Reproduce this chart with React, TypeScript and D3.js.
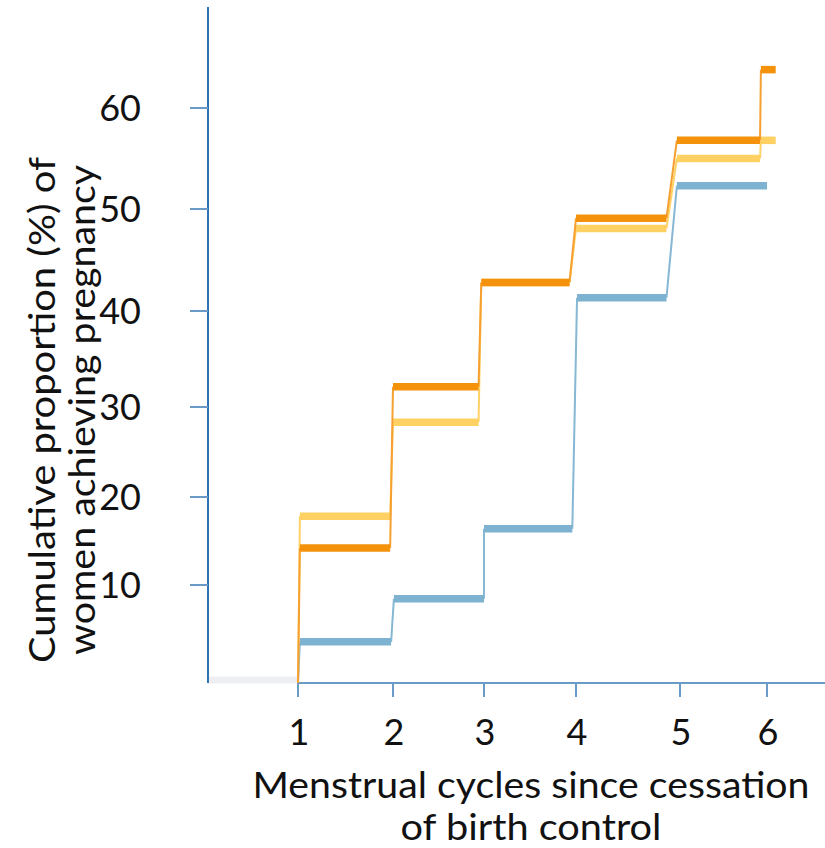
import React, { useEffect } from "react";
import * as d3 from "d3";

// ---- Data ----
const cycleTicks = [1, 2, 3, 4, 5, 6];
const pctTicks = [10, 20, 30, 40, 50, 60];

// step intervals (in cycle units) for the orange & yellow series
const stepStart = [1.02, 2.0, 2.97, 4.0, 4.97, 5.93];
const stepEnd = [1.97, 2.94, 3.93, 4.87, 5.92, 6.1];
// step intervals for the blue series
const blueStart = [1.02, 2.01, 3.0, 4.01, 4.97];
const blueEnd = [1.98, 3.0, 3.96, 4.87, 6.0];

const blueValues = [4.2, 8.6, 16.4, 41.3, 52.3];
const yellowValues = [17.8, 28.3, 42.8, 48.1, 55.0, 56.8];
const orangeValues = [14.2, 32.1, 42.8, 49.1, 56.8, 63.8];

const xTitle = ["Menstrual cycles since cessation", "of birth control"];
const yTitle = ["Cumulative proportion (%) of", "women achieving pregnancy"];

const W = 825;
const H = 848;

// non-uniform axes, as drawn in the reference
const x = d3
  .scaleLinear()
  .domain([0, 1, 2, 3, 4, 5, 6])
  .range([208, 298, 393, 484, 576, 680, 767]);
const y = d3
  .scaleLinear()
  .domain([0, 10, 20, 30, 40, 50, 60])
  .range([683, 585, 497, 407, 311, 209, 108]);

type Series = {
  name: string;
  color: string;
  lineColor: string;
  values: number[];
  starts: number[];
  ends: number[];
};

const series: Series[] = [
  { name: "blue", color: "#7db3d1", lineColor: "#86b8d4", values: blueValues, starts: blueStart, ends: blueEnd },
  { name: "yellow", color: "#ffd163", lineColor: "#ffd166", values: yellowValues, starts: stepStart, ends: stepEnd },
  { name: "orange", color: "#f4930b", lineColor: "#f5a030", values: orangeValues, starts: stepStart, ends: stepEnd },
];

const FONT = "Lato, 'Open Sans', sans-serif";

export default function App() {
  useEffect(() => {
    document.body.style.margin = "0";
  }, []);

  const axisColor = "#2f73b3";
  const tickColor = "#6a9ac6";

  return (
    <svg
      width={W}
      height={H}
      viewBox={`0 0 ${W} ${H}`}
      style={{ position: "absolute", left: 0, top: 0, background: "#fff" }}
    >
      {/* zero baseline segment */}
      <line x1={x(0)} x2={x(1)} y1={y(0) - 3} y2={y(0) - 3} stroke="#eeeff2" strokeWidth={7} />

      {/* y axis */}
      <line x1={x(0)} x2={x(0)} y1={7} y2={y(0)} stroke={axisColor} strokeWidth={2} />
      {pctTicks.map((t) => (
        <g key={t}>
          <line x1={x(0) - 18} x2={x(0)} y1={y(t)} y2={y(t)} stroke={tickColor} strokeWidth={2} />
          <text
            x={141}
            y={y(t)}
            dy="0.36em"
            textAnchor="end"
            fontFamily={FONT}
            fontSize={36}
            fill="#111"
          >
            {t}
          </text>
        </g>
      ))}

      {/* x axis */}
      <line x1={x(1)} x2={W} y1={y(0)} y2={y(0)} stroke={tickColor} strokeWidth={2} />
      {cycleTicks.map((c) => (
        <g key={c}>
          <line x1={x(c)} x2={x(c)} y1={y(0)} y2={y(0) + 14} stroke={tickColor} strokeWidth={2} />
          <text
            x={x(c) + 1}
            y={745}
            textAnchor="middle"
            fontFamily={FONT}
            fontSize={36}
            fill="#111"
          >
            {c}
          </text>
        </g>
      ))}

      {/* series: thin connectors and thick step bars */}
      {series.map((s) => {
        const connectors: JSX.Element[] = [];
        for (let i = 0; i < s.values.length; i++) {
          const prevX = i === 0 ? 1 : s.ends[i - 1];
          const prevY = i === 0 ? 0 : s.values[i - 1];
          connectors.push(
            <line
              key={`c${i}`}
              x1={x(prevX)}
              y1={y(prevY)}
              x2={x(s.starts[i])}
              y2={y(s.values[i])}
              stroke={s.lineColor}
              strokeWidth={2}
            />
          );
        }
        return (
          <g key={s.name}>
            {connectors}
            {s.values.map((v, i) => (
              <line
                key={`b${i}`}
                x1={x(s.starts[i])}
                x2={x(s.ends[i])}
                y1={y(v)}
                y2={y(v)}
                stroke={s.color}
                strokeWidth={7.5}
              />
            ))}
          </g>
        );
      })}

      {/* x title */}
      <text fontFamily={FONT} fontSize={37} fill="#111" textAnchor="middle">
        <tspan x={531} y={798} textLength={557} lengthAdjust="spacingAndGlyphs">
          {xTitle[0]}
        </tspan>
        <tspan x={531} y={840} textLength={261} lengthAdjust="spacingAndGlyphs">
          {xTitle[1]}
        </tspan>
      </text>

      {/* y title */}
      <g transform="translate(0,410) rotate(-90)">
        <text fontFamily={FONT} fontSize={37} fill="#111" textAnchor="middle">
          <tspan x={0} y={55} textLength={506} lengthAdjust="spacingAndGlyphs">
            {yTitle[0]}
          </tspan>
          <tspan x={0} y={95} textLength={490} lengthAdjust="spacingAndGlyphs">
            {yTitle[1]}
          </tspan>
        </text>
      </g>
    </svg>
  );
}
